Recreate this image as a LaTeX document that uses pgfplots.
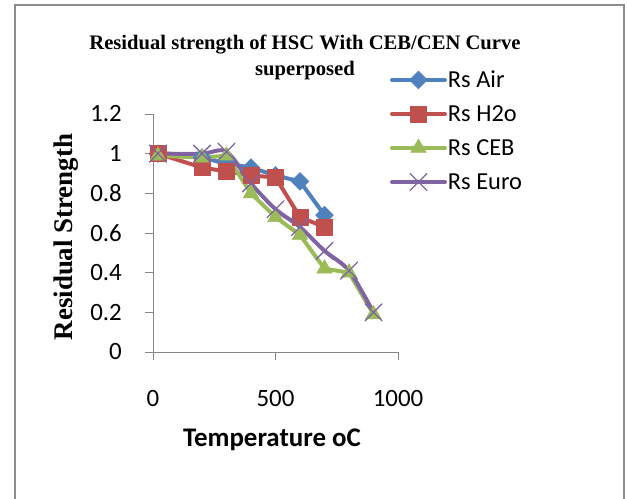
\documentclass[border=0pt]{standalone}
\usepackage{pgfplots}
\pgfplotsset{compat=1.18}
\usepackage{fontspec}
\setmainfont{Liberation Serif}
\newfontfamily\calfont{Carlito}

\definecolor{airblue}{HTML}{4F81BD}
\definecolor{h2ored}{HTML}{C0504D}
\definecolor{cebgreen}{HTML}{9BBB59}
\definecolor{europurple}{HTML}{8064A2}
\definecolor{axgray}{HTML}{868686}
\definecolor{framegray}{HTML}{8C8C8C}

% measured values, temperature (oC) vs residual strength
\pgfplotstableread{
T    Rs
20   1.00
200  0.98
300  0.95
400  0.93
500  0.89
600  0.86
700  0.69
}\air
\pgfplotstableread{
T    Rs
20   1.00
200  0.93
300  0.91
400  0.89
500  0.88
600  0.68
700  0.63
}\water
\pgfplotstableread{
T    Rs
20   0.99
200  0.98
300  0.99
400  0.80
500  0.68
600  0.59
700  0.42
800  0.40
900  0.19
}\ceb
\pgfplotstableread{
T    Rs
20   1.00
200  1.00
300  1.01
400  0.85
500  0.72
600  0.63
700  0.51
800  0.41
900  0.20
}\euro

\begin{document}
\begin{tikzpicture}
\useasboundingbox (0bp,0bp) rectangle (627bp,499bp);
% chart frame
\draw[framegray, line width=2bp] (15bp,-5bp) -- (15bp,493.5bp) -- (624bp,493.5bp) -- (624bp,-5bp);

\begin{axis}[
  at={(153bp,147bp)}, anchor=south west,
  scale only axis, width=245bp, height=238bp,
  xmin=0, xmax=1000, ymin=0, ymax=1.2,
  xtick={0,500,1000}, ytick={0,0.2,...,1.2},
  axis x line*=bottom, axis y line*=left,
  axis line style={axgray, line width=0.9bp, -},
  tick style={axgray, line width=0.9bp},
  tick align=outside, major tick length=8bp,
  /pgf/number format/assume math mode=true,
  /pgf/number format/1000 sep={},
  xticklabel style={font=\calfont\fontsize{25}{25}\selectfont, anchor=center, yshift=-39bp, inner sep=0pt},
  yticklabel style={font=\calfont\fontsize{25}{25}\selectfont, anchor=east, xshift=-23bp, inner sep=0pt},
  legend cell align=left,
  legend style={draw=none, fill=none, inner sep=0pt, outer sep=0pt,
    at={(axis description cs:0.9673,1.1849)}, anchor=north west,
    column sep=1bp, row sep=14bp,
    nodes={inner sep=0pt, text height=15.8bp, text depth=0bp,
      font=\calfont\fontsize{24.5}{25}\selectfont}},
  legend image code/.code={
    \path[draw=none, fill=none] (0bp,-10bp) rectangle (53bp,10bp);
    \draw[mark repeat=2, mark phase=2, #1] plot coordinates {(0bp,0bp) (26.5bp,0bp) (53bp,0bp)};
  },
]
\addplot[airblue, line width=4bp, line cap=round, line join=round,
  mark=square*, mark size=6.3bp,
  mark options={solid, rotate=45, fill=airblue, draw=airblue, line width=0.5bp}]
  table[x=T, y=Rs] {\air};
\addlegendentry{Rs Air}
\addplot[h2ored, line width=4bp, line cap=round, line join=round,
  mark=square*, mark size=8bp,
  mark options={solid, fill=h2ored, draw=h2ored, line width=0.5bp}]
  table[x=T, y=Rs] {\water};
\addlegendentry{Rs H2o}
\addplot[cebgreen, line width=4bp, line cap=round, line join=round,
  mark=triangle*, mark size=9bp,
  mark options={solid, fill=cebgreen, draw=cebgreen, line width=0.5bp}]
  table[x=T, y=Rs] {\ceb};
\addlegendentry{Rs CEB}
\addplot[europurple, line width=4bp, line cap=round, line join=round,
  smooth, mark=x, mark size=12bp,
  mark options={solid, line width=1.3bp}]
  table[x=T, y=Rs] {\euro};
\addlegendentry{Rs Euro}
\end{axis}

% titles and axis labels
\node[font=\bfseries\fontsize{20.7}{24}\selectfont, anchor=base] at (305bp,449bp)
  {Residual strength of HSC With CEB/CEN Curve};
\node[font=\bfseries\fontsize{20.7}{24}\selectfont, anchor=base] at (305bp,423bp)
  {superposed};
\node[font=\bfseries\fontsize{27}{30}\selectfont, rotate=90, anchor=base] at (72bp,262bp)
  {Residual Strength};
\node[font=\calfont\bfseries\fontsize{27}{30}\selectfont, anchor=base] at (272bp,52bp)
  {Temperature oC};
\end{tikzpicture}
\end{document}
